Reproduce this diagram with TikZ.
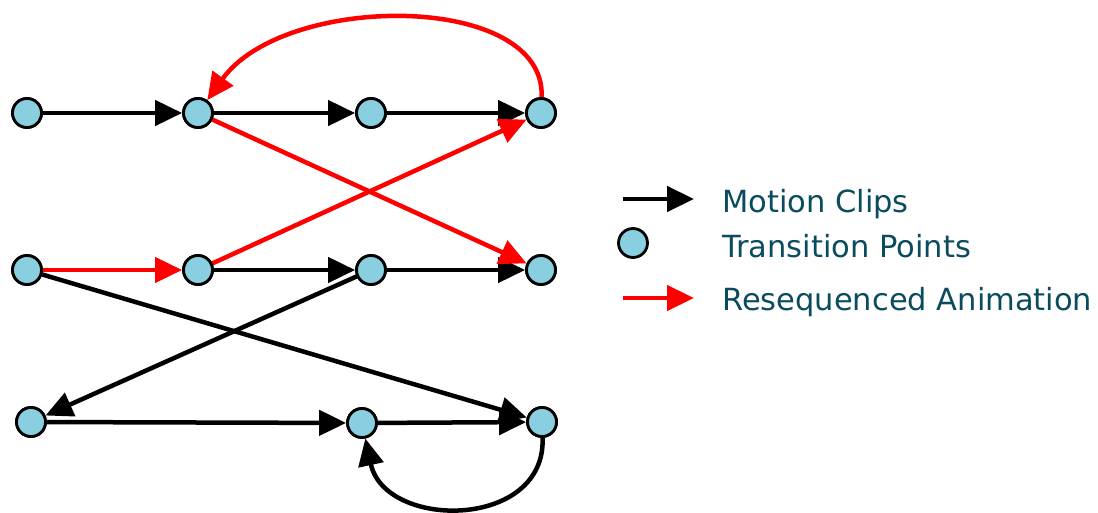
\documentclass[tikz,border=0pt]{standalone}
\usepackage{fontspec}
\setmainfont{DejaVu Sans}
\usetikzlibrary{arrows.meta}
\definecolor{nodefill}{HTML}{89CFE0}
\definecolor{txt}{HTML}{0B4B5E}
\definecolor{myred}{HTML}{FF0000}
\tikzset{
  tp/.style={circle,draw=black,line width=2.8pt,fill=nodefill,minimum size=29pt,inner sep=0pt},
  clip/.style={line width=4.5pt,-{Triangle[length=27pt,width=25pt]}},
  blk/.style={clip,draw=black},
  rd/.style={clip,draw=myred},
  lbl/.style={anchor=base west,text=txt,font=\fontsize{30.5}{34}\selectfont,inner sep=0pt}
}
\begin{document}
\begin{tikzpicture}[x=1pt,y=-1pt]
\useasboundingbox (0,0) rectangle (1098,513);
% nodes
\node[tp] (a1) at (27,113) {};
\node[tp] (a2) at (198,113) {};
\node[tp] (a3) at (371,113) {};
\node[tp] (a4) at (541,113) {};
\node[tp] (b1) at (27,270) {};
\node[tp] (b2) at (198,270) {};
\node[tp] (b3) at (371,270) {};
\node[tp] (b4) at (541,270) {};
\node[tp] (c1) at (31,422) {};
\node[tp] (c2) at (362,423) {};
\node[tp] (c3) at (542,422) {};
% black clips
\draw[blk] (a1) -- (a2);
\draw[blk] (a2) -- (a3);
\draw[blk] (a3) -- (a4);
\draw[blk] (b2) -- (b3);
\draw[blk] (b3) -- (b4);
\draw[blk] (b1) -- (c3);
\draw[blk] (b3) -- (c1);
\draw[blk] (c1) -- (c2);
\draw[blk] (c2) -- (c3);
\draw[blk] (c3) .. controls (546,530) and (385,530) .. (c2);
% red resequenced
\draw[rd] (b1) -- (b2);
\draw[rd] (b2) -- (a4);
\draw[rd] (a2) -- (b4);
\draw[rd] (a4) .. controls (546,-8) and (285,-8) .. (a2);
% redraw nodes on top
\foreach \n in {a1,a2,a3,a4,b1,b2,b3,b4,c1,c2,c3}{\node[tp] at (\n) {};}
% legend
\coordinate (l1s) at (623,199);
\coordinate (l1e) at (694,199);
\draw[blk] (l1s) -- (l1e);
\node[tp] (lc) at (633,243) {};
\coordinate (l3s) at (623,298);
\coordinate (l3e) at (694,298);
\draw[rd] (l3s) -- (l3e);
\node[lbl] (t1) at (722,213) {Motion Clips};
\node[lbl] (t2) at (722,258) {Transition Points};
\node[lbl] (t3) at (722,310) {Resequenced Animation};
\end{tikzpicture}
\end{document}
